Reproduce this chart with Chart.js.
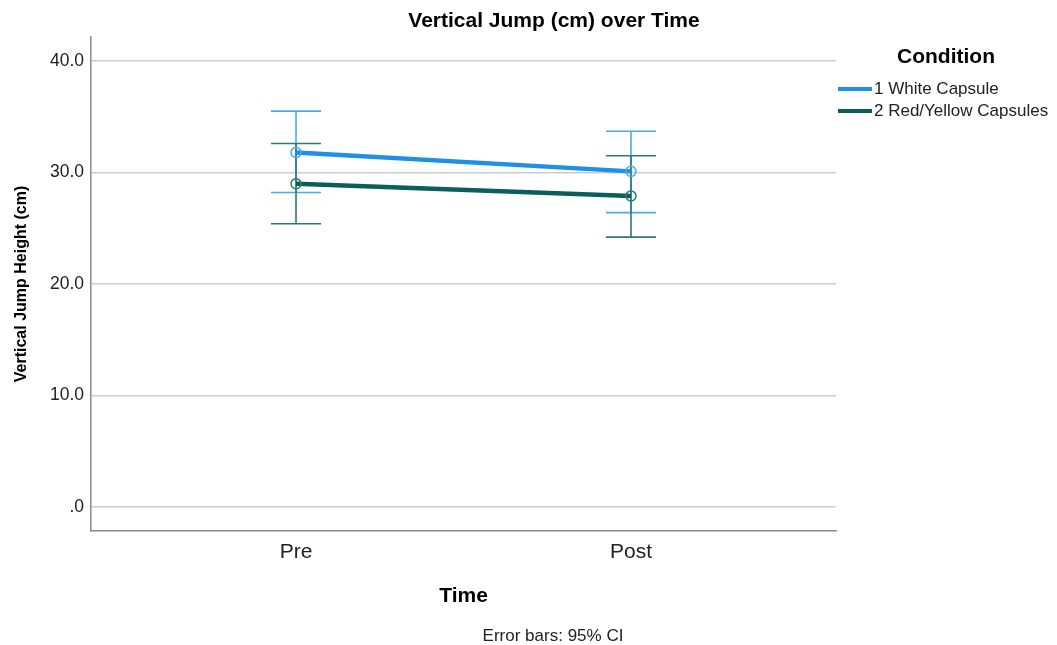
<!DOCTYPE html>
<html>
<head>
<meta charset="utf-8">
<script src="https://cdn.jsdelivr.net/npm/chart.js@4/dist/chart.umd.min.js"></script>
<style>
  html, body { margin: 0; padding: 0; background: #fff; }
  #wrap { width: 1057px; height: 645px; }
</style>
</head>
<body>
<div id="wrap"><canvas id="jumpChart" width="1057" height="645"></canvas></div>
<script>
// values
const times = ['Pre', 'Post'];
const conditions = ['1 White Capsule', '2 Red/Yellow Capsules'];
const whiteMean = [31.8, 30.1];
const whiteLower = [28.2, 26.4];
const whiteUpper = [35.5, 33.7];
const redMean = [29.0, 27.9];
const redLower = [25.4, 24.2];
const redUpper = [32.6, 31.5];
const yTicks = [0, 10, 20, 30, 40];

const FONT = "'Liberation Sans', Arial, sans-serif";
const lineColors = ['#1f90e6', '#0b5e5a'];
const barColors = ['#4aaaf0', '#2c7a77'];

function toPoints(arr) {
    return arr.map((v, i) => ({ x: i, y: v }));
}

const errors = [
    { lower: whiteLower, upper: whiteUpper },
    { lower: redLower, upper: redUpper }
];

// error bars under the lines
const errorBars = {
    id: 'errorBars',
    beforeDatasetsDraw(chart) {
        const ctx = chart.ctx;
        const xs = chart.scales.x, ys = chart.scales.y;
        ctx.save();
        ctx.lineWidth = 1.6;
        errors.forEach((e, d) => {
            ctx.strokeStyle = barColors[d];
            times.forEach((t, i) => {
                const px = xs.getPixelForValue(i);
                const top = ys.getPixelForValue(e.upper[i]);
                const bot = ys.getPixelForValue(e.lower[i]);
                ctx.beginPath();
                ctx.moveTo(px, top); ctx.lineTo(px, bot);
                ctx.moveTo(px - 25, top); ctx.lineTo(px + 25, top);
                ctx.moveTo(px - 25, bot); ctx.lineTo(px + 25, bot);
                ctx.stroke();
            });
        });
        ctx.restore();
    }
};

// titles, legend and footnote
const extras = {
    id: 'extras',
    afterDraw(chart) {
        const ctx = chart.ctx;
        const area = chart.chartArea;
        ctx.save();
        ctx.fillStyle = '#000';
        ctx.textBaseline = 'middle';
        ctx.textAlign = 'center';
        ctx.font = 'bold 21px ' + FONT;
        ctx.fillText('Vertical Jump (cm) over Time', 554, 21);
        ctx.font = 'bold 21px ' + FONT;
        ctx.fillText('Time', (area.left + area.right) / 2, 596);
        ctx.font = '17px ' + FONT;
        ctx.fillStyle = '#222';
        ctx.fillText('Error bars: 95% CI', 553, 636);

        ctx.save();
        ctx.translate(22, (area.top + area.bottom) / 2);
        ctx.rotate(-Math.PI / 2);
        ctx.fillStyle = '#000';
        ctx.font = 'bold 16px ' + FONT;
        ctx.fillText('Vertical Jump Height (cm)', 0, 0);
        ctx.restore();

        // legend
        ctx.fillStyle = '#000';
        ctx.font = 'bold 21px ' + FONT;
        ctx.fillText('Condition', 946, 57);
        ctx.textAlign = 'left';
        ctx.font = '17px ' + FONT;
        conditions.forEach((c, i) => {
            const y = 89 + i * 22;
            ctx.strokeStyle = lineColors[i];
            ctx.lineWidth = 4;
            ctx.beginPath();
            ctx.moveTo(838, y); ctx.lineTo(872, y);
            ctx.stroke();
            ctx.fillStyle = '#222';
            ctx.fillText(c, 874, y);
        });
        ctx.restore();
    }
};

const ctx = document.getElementById('jumpChart').getContext('2d');
const jumpChart = new Chart(ctx, {
    type: 'line',
    data: {
        datasets: [
            {
                label: conditions[0],
                data: toPoints(whiteMean),
                borderColor: lineColors[0],
                borderWidth: 4.5,
                pointRadius: 5,
                pointBorderWidth: 1.5,
                pointBorderColor: barColors[0],
                pointBackgroundColor: 'rgba(0,0,0,0)',
                tension: 0
            },
            {
                label: conditions[1],
                data: toPoints(redMean),
                borderColor: lineColors[1],
                borderWidth: 4.5,
                pointRadius: 5,
                pointBorderWidth: 1.5,
                pointBorderColor: barColors[1],
                pointBackgroundColor: 'rgba(0,0,0,0)',
                tension: 0
            }
        ]
    },
    options: {
        responsive: false,
        animation: false,
        layout: {
            padding: { top: 37, right: 221, bottom: 0, left: 0 }
        },
        plugins: {
            legend: { display: false },
            tooltip: { enabled: false }
        },
        scales: {
            x: {
                type: 'linear',
                min: -0.612,
                max: 1.612,
                afterFit(scale) { scale.height = 114; },
                afterBuildTicks(scale) {
                    scale.ticks = times.map((t, i) => ({ value: i }));
                },
                ticks: {
                    callback: (v) => times[v],
                    font: { family: FONT, size: 21 },
                    color: '#222',
                    padding: 9,
                    maxRotation: 0
                },
                grid: { display: false, drawTicks: false },
                border: { color: '#8a8a8a', width: 1.5 }
            },
            y: {
                min: -2.15,
                max: 42.15,
                afterFit(scale) { scale.width = 91; },
                afterBuildTicks(scale) {
                    scale.ticks = yTicks.map(v => ({ value: v }));
                },
                ticks: {
                    callback: (v) => v === 0 ? '.0' : v.toFixed(1),
                    font: { family: FONT, size: 17.5 },
                    color: '#222',
                    padding: 7
                },
                grid: { color: '#cccccc', lineWidth: 1.5, drawTicks: false },
                border: { color: '#8a8a8a', width: 1.5 }
            }
        }
    },
    plugins: [errorBars, extras]
});
</script>
</body>
</html>
